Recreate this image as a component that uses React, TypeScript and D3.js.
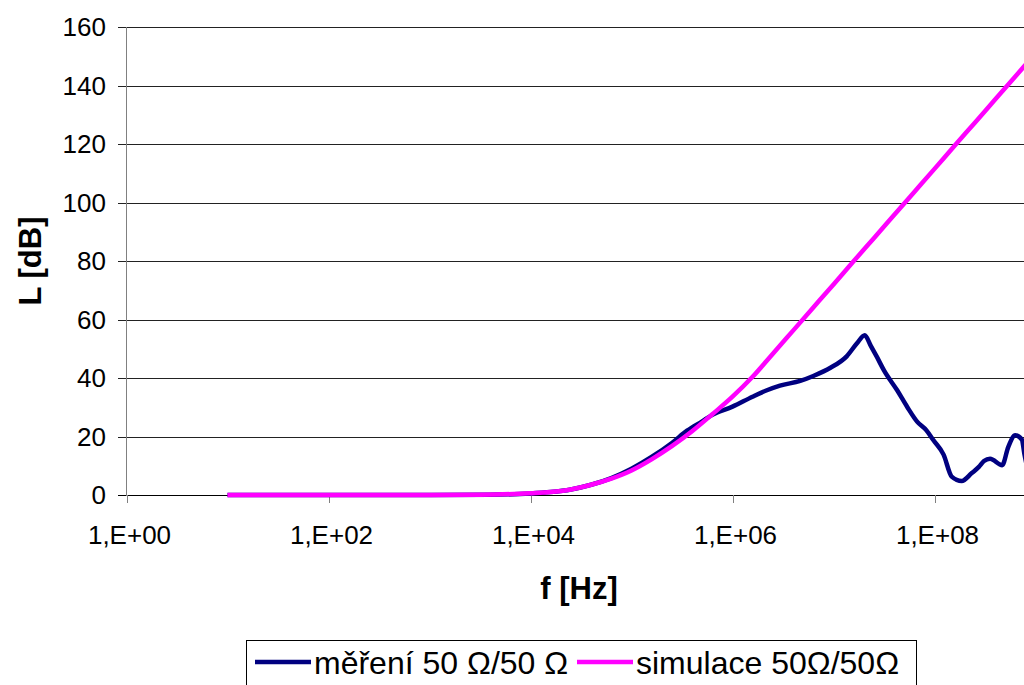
import * as d3 from 'd3'
import { useEffect, useRef } from 'react'

const W = 1024, H = 685

// frequency [Hz] and level [dB]
const measFreq = [10, 1e2, 1e3, 3.98e3, 1e4, 1.58e4, 2.51e4, 3.98e4, 6.31e4, 1e5, 1.58e5, 2.51e5, 3.55e5, 5.01e5, 6.31e5, 1e6, 1.58e6, 2.19e6, 2.95e6, 4.68e6, 6.31e6, 9.33e6, 1.35e7, 1.7e7, 2.04e7, 2.34e7, 2.69e7, 3.16e7, 4.27e7, 5.37e7, 6.76e7, 8.32e7, 9.77e7, 1.23e8, 1.48e8, 1.86e8, 2.34e8, 2.75e8, 3.09e8, 3.55e8, 4.68e8, 5.37e8, 6.31e8, 7.33e8, 7.76e8, 8.32e8]
const measL = [0, 0, 0, 0.1, 0.5, 1.0, 1.9, 3.5, 5.8, 9.0, 13.0, 17.8, 22.0, 25.2, 27.4, 30.2, 33.6, 35.8, 37.4, 39.0, 40.7, 43.5, 47.4, 51.8, 54.6, 51, 47.2, 42.6, 35.8, 30.1, 25, 22.1, 18.7, 13.8, 6.3, 4.8, 7.5, 9.6, 11.6, 12.4, 10.2, 16.4, 20.4, 18.9, 14.1, 9]

const simFreq = [10, 1e2, 1e3, 3.16e3, 1e4, 1.58e4, 2.51e4, 3.98e4, 6.31e4, 1e5, 1.58e5, 2.51e5, 3.98e5, 6.31e5, 1e6, 1.58e6, 2.51e6, 3.98e6, 6.31e6, 1e7, 1.58e7, 2.51e7, 3.98e7, 6.31e7, 1e8, 1.58e8, 2.51e8, 3.98e8, 6.31e8, 1e9]
const simL = [0, 0, 0, 0.1, 0.6, 1.0, 1.9, 3.5, 5.6, 8.4, 12.2, 16.7, 21.8, 27.6, 33.6, 40.4, 48.3, 56.2, 64.1, 72, 79.9, 87.8, 95.7, 103.6, 111.5, 119.4, 127.3, 135.2, 143.1, 151]

const xTicks = [1, 1e2, 1e4, 1e6, 1e8, 1e10]
const xLabels = [1, 1e2, 1e4, 1e6, 1e8]
const yTicks = [0, 20, 40, 60, 80, 100, 120, 140, 160]

const series = [
  { name: 'měření 50 Ω/50 Ω', color: '#000080', f: measFreq, L: measL },
  { name: 'simulace 50Ω/50Ω', color: '#ff00ff', f: simFreq, L: simL },
]

const font = '"Liberation Sans", Arial, sans-serif'
const x = d3.scaleLog().domain([1, 1e10]).range([126.5, 1136.5])
const y = d3.scaleLinear().domain([0, 160]).range([495, 27])

const fmtX = (v: number) => `1,E+${String(Math.round(Math.log10(v))).padStart(2, '0')}`

const chart = (node: SVGSVGElement) => {
  const svg = d3.select(node)
  svg.selectAll('*').remove()

  svg.append('defs').append('clipPath').attr('id', 'plot')
    .append('rect').attr('x', 126).attr('y', 20).attr('width', 1010).attr('height', 480)

  // gridlines
  svg.append('g')
    .selectAll('line')
    .data(yTicks)
    .join('line')
      .attr('x1', 118).attr('x2', 1136)
      .attr('y1', d => Math.round(y(d)) + 0.5).attr('y2', d => Math.round(y(d)) + 0.5)
      .attr('stroke', d => d === 0 ? '#000' : '#222')

  // y axis
  svg.append('line')
    .attr('x1', 126.5).attr('x2', 126.5).attr('y1', y(160)).attr('y2', y(0) + 1)
    .attr('stroke', '#808080')

  // x ticks
  svg.append('g')
    .selectAll('line')
    .data(xTicks)
    .join('line')
      .attr('x1', d => Math.round(x(d)) + 0.5).attr('x2', d => Math.round(x(d)) + 0.5)
      .attr('y1', y(0)).attr('y2', y(0) + 8)
      .attr('stroke', '#808080')

  svg.append('g')
    .attr('font-family', font).attr('font-size', 26).attr('text-anchor', 'end')
    .selectAll('text')
    .data(yTicks)
    .join('text')
      .attr('x', 106).attr('y', d => y(d)).attr('dy', '0.36em')
      .text(d => d)

  svg.append('g')
    .attr('font-family', font).attr('font-size', 26).attr('text-anchor', 'middle')
    .selectAll('text')
    .data(xLabels)
    .join('text')
      .attr('x', d => x(d) + 3).attr('y', 544)
      .text(fmtX)

  // axis titles
  svg.append('text')
    .attr('font-family', font).attr('font-size', 31).attr('font-weight', 'bold')
    .attr('text-anchor', 'middle')
    .attr('transform', 'translate(41,261) rotate(-90)')
    .text('L [dB]')
  svg.append('text')
    .attr('font-family', font).attr('font-size', 31).attr('font-weight', 'bold')
    .attr('text-anchor', 'middle')
    .attr('x', 579).attr('y', 599)
    .text('f [Hz]')

  // curves
  const line = d3.line<[number, number]>()
    .x(d => x(d[0])).y(d => y(d[1]))
    .curve(d3.curveMonotoneX)

  svg.append('g')
    .attr('clip-path', 'url(#plot)')
    .selectAll('path')
    .data(series)
    .join('path')
      .attr('fill', 'none')
      .attr('stroke', d => d.color)
      .attr('stroke-width', 4.5)
      .attr('stroke-linejoin', 'round')
      .attr('d', d => line(d.f.map((f, i) => [f, d.L[i]] as [number, number])))

  // legend
  const lg = svg.append('g')
  lg.append('rect')
    .attr('x', 246.5).attr('y', 640.5).attr('width', 670).attr('height', 80)
    .attr('fill', '#fff').attr('stroke', '#000')
  const items = [{ x0: 255, tx: 314 }, { x0: 577, tx: 636 }]
  series.forEach((s, i) => {
    lg.append('line')
      .attr('x1', items[i].x0).attr('x2', items[i].x0 + 56)
      .attr('y1', 662).attr('y2', 662)
      .attr('stroke', s.color).attr('stroke-width', 4.5)
    lg.append('text')
      .attr('font-family', font).attr('font-size', 32)
      .attr('x', items[i].tx).attr('y', 674)
      .text(s.name)
  })
}

export default function App() {
  const ref = useRef<SVGSVGElement>(null)
  useEffect(() => {
    if (ref.current) chart(ref.current)
  }, [])
  return (
    <svg ref={ref} width={W} height={H}
      style={{ position: 'absolute', left: 0, top: 0, background: '#fff' }} />
  )
}
